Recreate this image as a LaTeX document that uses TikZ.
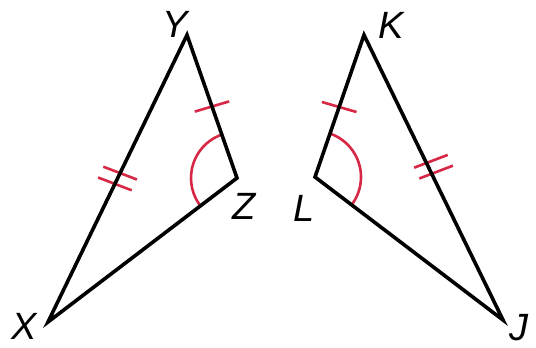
\documentclass[tikz,border=0pt]{standalone}
\usepackage{fontspec}
\setmainfont{Liberation Sans}
\usetikzlibrary{angles}
\definecolor{mk}{RGB}{214,40,68}
\begin{document}
\begin{tikzpicture}[x=1pt,y=-1pt,
  side/.style={draw=black,line width=3.6pt,line join=miter,miter limit=20},
  tick/.style={draw=mk,line width=2.6pt},
  arcmark/.style={draw=mk,line width=2.6pt,angle radius=46pt},
  lbl/.style={font=\fontsize{38}{38}\selectfont\itshape,inner sep=0pt}]
\useasboundingbox (0,0) rectangle (536,348);
% vertices
\coordinate (Y) at (187,35);
\coordinate (Z) at (237,178);
\coordinate (X) at (48,322);
\coordinate (K) at (364,35);
\coordinate (L) at (315,177);
\coordinate (J) at (503,320);
% angle marks
\pic[arcmark] {angle = Y--Z--X};
\pic[arcmark] {angle = J--L--K};
% tick marks
\coordinate (t1a) at (103.3,166.7); \coordinate (t1b) at (136.9,179.5);
\coordinate (t2a) at (98.1,177.5);  \coordinate (t2b) at (131.7,190.3);
\draw[tick] (t1a) -- (t1b);
\draw[tick] (t2a) -- (t2b);
\coordinate (t3a) at (419.3,178.5); \coordinate (t3b) at (452.9,165.7);
\coordinate (t4a) at (414.1,167.7); \coordinate (t4b) at (447.7,154.9);
\draw[tick] (t3a) -- (t3b);
\draw[tick] (t4a) -- (t4b);
\coordinate (t5a) at (194.8,111.6); \coordinate (t5b) at (229.2,101.4);
\draw[tick] (t5a) -- (t5b);
\coordinate (t6a) at (321.9,102.0); \coordinate (t6b) at (356.5,112.0);
\draw[tick] (t6a) -- (t6b);
% triangles
\draw[side] (X) -- (Y) -- (Z) -- cycle;
\draw[side] (K) -- (L) -- (J) -- cycle;
% labels
\node[lbl] (lY) at (175,24) {Y};
\node[lbl] (lZ) at (244,206) {Z};
\node[lbl] (lX) at (24,326) {X};
\node[lbl] (lK) at (391,25) {K};
\node[lbl] (lL) at (304,208) {L};
\node[lbl] (lJ) at (519,328) {J};
\end{tikzpicture}
\end{document}
